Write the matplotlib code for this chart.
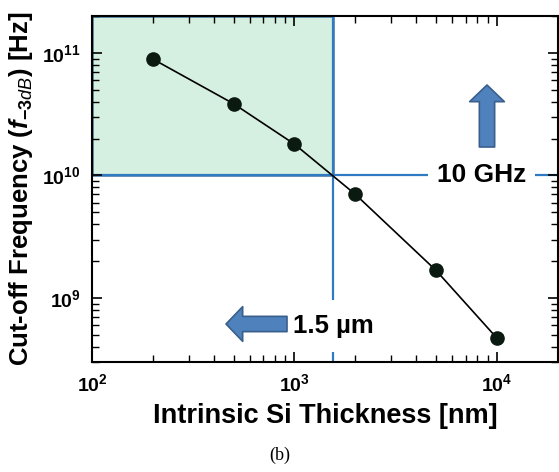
import matplotlib
matplotlib.use("Agg")
import matplotlib.pyplot as plt
from matplotlib.patches import Rectangle

plt.rcParams['font.family'] = ['Liberation Sans', 'DejaVu Sans']
plt.rcParams['mathtext.fontset'] = 'custom'
plt.rcParams['mathtext.rm'] = 'Liberation Sans:bold'
plt.rcParams['mathtext.bf'] = 'Liberation Sans:bold'
plt.rcParams['mathtext.it'] = 'Liberation Sans:italic'
plt.rcParams['mathtext.bfit'] = 'Liberation Sans:bold:italic'

# data
thickness_nm = [200, 500, 1000, 2000, 5000, 10000]
f3db_hz = [8.9e10, 3.85e10, 1.8e10, 7.0e9, 1.68e9, 4.7e8]

thick_limit = 1550      # 1.5 um
freq_limit = 1e10       # 10 GHz
xlims = (100, 2e4)
ylims = (3e8, 2e11)
xtick_vals = [1e2, 1e3, 1e4]
xtick_labels = [r'$\mathbf{10^{2}}$', r'$\mathbf{10^{3}}$', r'$\mathbf{10^{4}}$']
ytick_vals = [1e9, 1e10, 1e11]
ytick_labels = [r'$\mathbf{10^{9}}$', r'$\mathbf{10^{10}}$', r'$\mathbf{10^{11}}$']

fig = plt.figure(figsize=(5.59, 4.72), dpi=100)
ax = fig.add_axes([0.1646, 0.233, 0.8334, 0.733])
ax.set_xscale('log')
ax.set_yscale('log')
ax.set_xlim(*xlims)
ax.set_ylim(*ylims)

# shaded target region
ax.add_patch(Rectangle((xlims[0], freq_limit), thick_limit - xlims[0], ylims[1] - freq_limit,
                       facecolor='#d5efe0', edgecolor='#41719c', lw=1.8, zorder=1, clip_on=False))
ax.axhline(freq_limit, color='#2e7bc4', lw=1.6, zorder=1.5)
ax.axvline(thick_limit, color='#2e7bc4', lw=1.6, zorder=1.5)

ax.plot(thickness_nm, f3db_hz, '-', color='black', lw=1.2, zorder=3)
ax.plot(thickness_nm, f3db_hz, 'o', color='#0b1a10', ms=9.5, zorder=4)

ax.text(8400, freq_limit, '10 GHz', fontsize=19, fontweight='bold', ha='center', va='center',
        bbox=dict(boxstyle='square,pad=0.33', fc='white', ec='none'), zorder=2)
ax.text(thick_limit, 5.9e8, '1.5 µm', fontsize=18.5, fontweight='bold', ha='center', va='center',
        bbox=dict(boxstyle='square,pad=0.55', fc='white', ec='none'), zorder=2)

arrow_kw = dict(arrowstyle='simple,head_width=2.5,head_length=1.2,tail_width=1.1',
                mutation_scale=10, fc='#4f81bd', ec='#3a5f8b', lw=1.2, shrinkA=0, shrinkB=0)
ax.annotate('', xy=(487, 387), xytext=(487, 325), xycoords='figure pixels',
            textcoords='figure pixels', arrowprops=arrow_kw, zorder=5)
ax.annotate('', xy=(226, 148), xytext=(287, 148), xycoords='figure pixels',
            textcoords='figure pixels', arrowprops=arrow_kw, zorder=5)

ax.set_xticks(xtick_vals, xtick_labels)
ax.set_yticks(ytick_vals, ytick_labels)
ax.tick_params(which='both', direction='in', top=True, right=True)
ax.tick_params(which='major', length=7, width=1.2, labelsize=14, pad=8)
ax.tick_params(which='minor', length=5, width=1.0)
for s in ax.spines.values():
    s.set_linewidth(1.5)

ax.set_xlabel('Intrinsic Si Thickness [nm]', fontsize=19.5, fontweight='bold', labelpad=6)
ax.set_ylabel(r'Cut-off Frequency ($\mathbfit{f}_{\mathit{-3dB}}$) [Hz]', fontsize=18.5,
              fontweight='bold', labelpad=5)

fig.text(0.5, 0.036, '(b)', fontsize=13, family='Liberation Serif', ha='center', va='center')

fig.savefig('out.png', dpi=100)
